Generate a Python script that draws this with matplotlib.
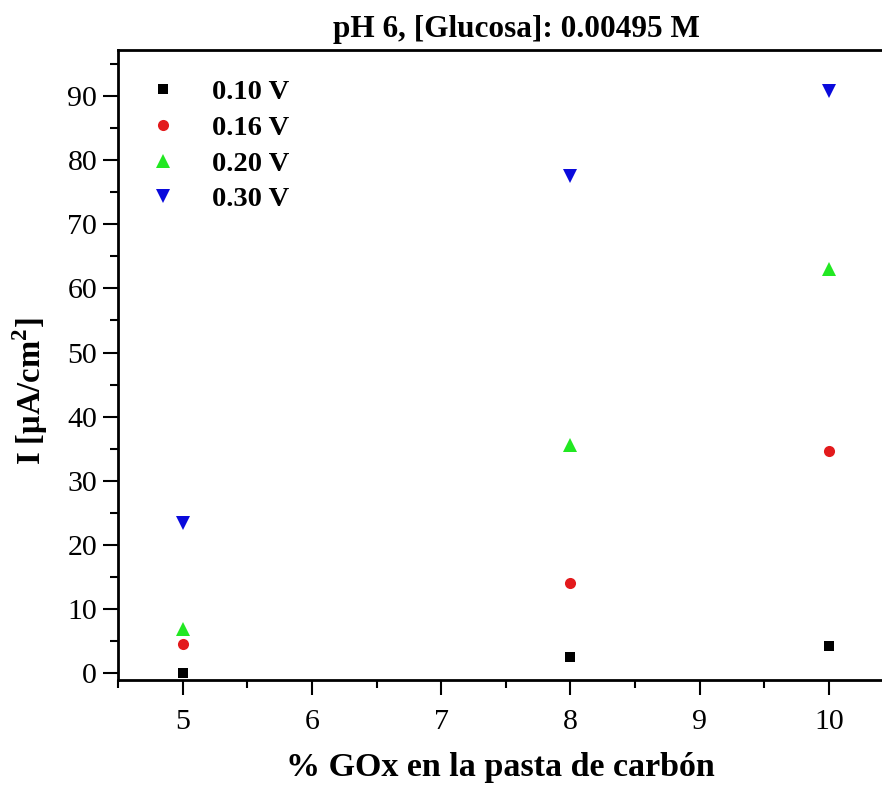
import matplotlib
matplotlib.use("Agg")
import matplotlib.pyplot as plt
from matplotlib.ticker import MultipleLocator

plt.rcParams['font.family'] = ['Liberation Serif', 'DejaVu Serif']
plt.rcParams['mathtext.fontset'] = 'custom'
plt.rcParams['mathtext.rm'] = 'Liberation Serif'
plt.rcParams['mathtext.bf'] = 'Liberation Serif:bold'

x_goxs = [5, 8, 10]
series_labels = ['0.10 V', '0.16 V', '0.20 V', '0.30 V']
i_010 = [0.0, 2.5, 4.2]
i_016 = [4.5, 14.0, 34.6]
i_020 = [6.9, 35.6, 63.0]
i_030 = [23.4, 77.5, 90.8]

fig = plt.figure(figsize=(8.82, 7.87), dpi=100)
ax = fig.add_axes([118/882, 1-680/787, 1-118/882, (680-50)/787])

styles = [('s', 'black', 7), ('o', '#e31a1c', 8), ('^', '#22e822', 10), ('v', '#0a0adc', 10)]
for vals, lab, (m, c, ms) in zip([i_010, i_016, i_020, i_030], series_labels, styles):
    ax.plot(x_goxs, vals, linestyle='none', marker=m, color=c, markersize=ms,
            markeredgewidth=0, label=lab)

ax.set_xlim(4.5, 10.41)
ax.set_ylim(-1.1, 97.2)
ax.xaxis.set_major_locator(MultipleLocator(1))
ax.xaxis.set_minor_locator(MultipleLocator(0.5))
ax.yaxis.set_major_locator(MultipleLocator(10))
ax.yaxis.set_minor_locator(MultipleLocator(5))
ax.tick_params(which='major', direction='out', length=11, width=1.5, labelsize=21.5, pad=4)
ax.tick_params(which='minor', direction='out', length=6, width=1.5)
ax.tick_params(axis='x', pad=10)
for s in ['left', 'bottom', 'top']:
    ax.spines[s].set_linewidth(2)
ax.spines['right'].set_visible(False)

ax.set_title('pH 6, [Glucosa]: 0.00495 M', fontsize=22.5, fontweight='bold', pad=9,
             x=(516-118)/764)
ax.set_xlabel('% GOx en la pasta de carbón', fontsize=24.5, fontweight='bold', labelpad=12)
ax.set_ylabel(r'I [$\mathbf{\mu}$A/cm$^\mathbf{2}$]', fontsize=23.5, fontweight='bold')
ax.yaxis.set_label_coords((50-118)/764, (680-391)/630)

leg = ax.legend(loc='upper left', bbox_to_anchor=(-0.008, 1.012), frameon=False,
                prop={'weight': 'bold', 'size': 20.5}, handletextpad=1.2,
                labelspacing=0.34, borderaxespad=0.9, handlelength=1.0)

fig.savefig('out.png', dpi=100)
